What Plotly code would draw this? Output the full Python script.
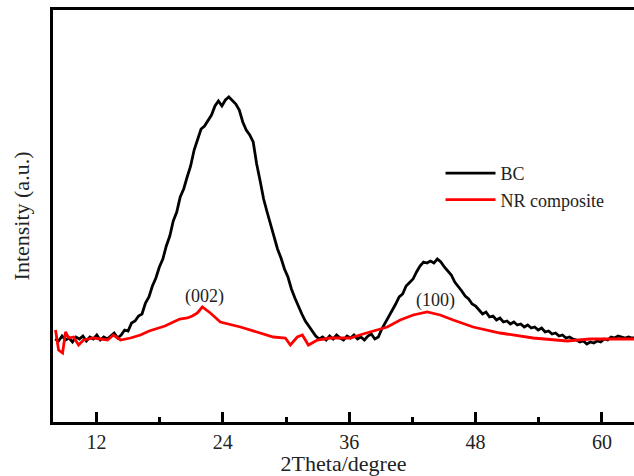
import plotly.graph_objects as go

# XRD patterns: 2-theta (degree) and relative intensity (a.u.)
bc_theta = [8.07, 8.40, 8.73, 9.06, 9.39, 9.72, 10.05, 10.38, 10.71, 11.04,
            11.37, 11.70, 12.03, 12.36, 12.69, 13.02, 13.35, 13.68, 14.01, 14.34,
            14.67, 15.00, 15.33, 15.66, 15.99, 16.32, 16.65, 16.98, 17.31, 17.64,
            17.97, 18.30, 18.63, 18.96, 19.29, 19.62, 19.95, 20.28, 20.61, 20.94,
            21.27, 21.60, 21.93, 22.26, 22.59, 22.92, 23.25, 23.58, 23.91, 24.24,
            24.57, 24.90, 25.23, 25.56, 25.89, 26.22, 26.55, 26.88, 27.21, 27.54,
            27.87, 28.20, 28.53, 28.86, 29.19, 29.52, 29.85, 30.18, 30.51, 30.84,
            31.17, 31.50, 31.83, 32.16, 32.49, 32.82, 33.15, 33.48, 33.81, 34.14,
            34.47, 34.80, 35.13, 35.46, 35.79, 36.12, 36.45, 36.78, 37.11, 37.44,
            37.77, 38.10, 38.43, 38.76, 39.09, 39.42, 39.75, 40.08, 40.41, 40.74,
            41.07, 41.40, 41.73, 42.06, 42.39, 42.72, 43.05, 43.38, 43.71, 44.04,
            44.37, 44.70, 45.03, 45.36, 45.69, 46.02, 46.35, 46.68, 47.01, 47.34,
            47.67, 48.00, 48.33, 48.66, 48.99, 49.32, 49.65, 49.98, 50.31, 50.64,
            50.97, 51.30, 51.63, 51.96, 52.29, 52.62, 52.95, 53.28, 53.61, 53.94,
            54.27, 54.60, 54.93, 55.26, 55.59, 55.92, 56.25, 56.58, 56.91, 57.24,
            57.57, 57.90, 58.23, 58.56, 58.89, 59.22, 59.55, 59.88, 60.21, 60.54,
            60.87, 61.20, 61.53, 61.86, 62.19, 62.52, 62.85, 63.18]
bc_int = [83, 81, 86, 82, 84, 80, 85, 83, 86, 81,
          85, 83, 87, 82, 85, 83, 86, 89, 84, 87,
          92, 91, 99, 101, 106, 108, 119, 125, 136, 144,
          155, 163, 176, 186, 201, 210, 225, 233, 245, 256,
          272, 283, 293, 296, 302, 307, 316, 321, 316, 322,
          325, 321, 318, 312, 300, 292, 287, 280, 258, 241,
          223, 210, 197, 186, 173, 164, 153, 145, 133, 124,
          115, 108, 101, 96, 91, 86, 83, 85, 82, 86,
          83, 87, 84, 82, 86, 84, 87, 83, 85, 82,
          86, 88, 83, 85, 93, 99, 105, 111, 118, 125,
          128, 136, 139, 143, 150, 156, 160, 159, 161, 159,
          163, 160, 155, 151, 147, 140, 136, 131, 126, 123,
          118, 116, 112, 108, 110, 105, 106, 102, 104, 100,
          101, 98, 100, 97, 98, 95, 97, 94, 95, 92,
          94, 90, 91, 88, 89, 86, 87, 84, 85, 83,
          82, 80, 81, 78, 80, 79, 81, 80, 83, 82,
          85, 84, 86, 85, 84, 85, 84, 84]

nr_theta = [8.11, 8.40, 8.78, 9.06, 9.35, 9.82, 10.30, 10.77, 11.72, 12.37, 13.05, 13.61,
            14.28, 15.23, 16.17, 17.00, 17.79, 18.50, 19.30, 19.90, 20.63, 21.10, 21.58, 22.05,
            22.81, 23.76, 25.66, 27.27, 28.79, 29.93, 30.41, 31.07, 31.55, 32.12, 32.97,
            34.20, 36.10, 37.32, 38.66, 39.61, 40.84, 42.07, 43.40, 44.63, 45.87, 47.76,
            50.32, 53.46, 56.69, 58.87, 62.95, 63.20]
nr_int = [92, 72, 69, 90, 84, 85, 77, 82, 84, 83, 82, 87,
          82, 84, 87, 91, 94, 96, 100, 103, 104, 106, 109, 115,
          109, 100, 95, 90, 85, 84, 77, 85, 87, 77, 82,
          84, 84, 88, 92, 95, 102, 107, 110, 107, 102, 95,
          89, 84, 81, 83, 83, 83]

peak_labels = ["(002)", "(100)"]
peak_theta = [22.25, 44.16]
peak_label_int = [126, 122]

serif = "Liberation Serif, Times New Roman, serif"
ink = "#222222"

fig = go.Figure()
fig.add_trace(go.Scatter(x=bc_theta, y=bc_int, mode="lines", name="BC",
                         line=dict(color="black", width=2.8)))
fig.add_trace(go.Scatter(x=nr_theta, y=nr_int, mode="lines", name="NR composite",
                         line=dict(color="#ff0000", width=2.8)))

for txt, xv, yv in zip(peak_labels, peak_theta, peak_label_int):
    fig.add_annotation(x=xv, y=yv, text=txt, showarrow=False,
                       font=dict(family=serif, size=18, color=ink))

fig.update_layout(
    width=634, height=476,
    margin=dict(l=53, r=0, t=10, b=54),
    paper_bgcolor="white", plot_bgcolor="white",
    showlegend=True,
    legend=dict(x=0.667, y=0.648, xanchor="left", yanchor="top",
                bgcolor="rgba(0,0,0,0)", font=dict(family=serif, size=18, color=ink),
                itemwidth=50, tracegroupgap=0),
    xaxis=dict(range=[7.87, 63.04], tickmode="linear", tick0=0, dtick=12,
               showgrid=False, zeroline=False,
               showline=True, linecolor="black", linewidth=2.5, mirror=True,
               ticks="inside", ticklen=10, tickwidth=2.5, tickcolor="black",
               minor=dict(dtick=6, tick0=0, ticks="inside", ticklen=5, tickwidth=2.5,
                          tickcolor="black", showgrid=False),
               tickfont=dict(family=serif, size=20, color=ink),
               title=dict(text="2Theta/degree", font=dict(family=serif, size=22, color=ink),
                          standoff=0)),
    yaxis=dict(range=[0, 412], showticklabels=False, ticks="", showgrid=False, zeroline=False,
               showline=True, linecolor="black", linewidth=2.5, mirror=False,
               title=dict(text="Intensity (a.u.)", font=dict(family=serif, size=22, color=ink),
                          standoff=15)),
)

fig.write_html("out.html")
